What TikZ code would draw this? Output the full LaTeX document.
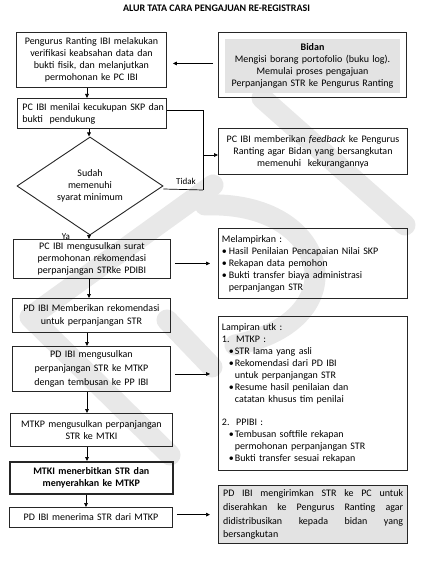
\documentclass[tikz,border=0pt]{standalone}
\usepackage{fontspec}
\setmainfont{Carlito}
\usetikzlibrary{shapes.geometric,arrows.meta,calc}
\begin{document}
\begin{tikzpicture}[x=1pt,y=-1pt,
  txt/.style={font=\fontsize{10}{12}\selectfont},
  box/.style={txt,draw=black!85,line width=0.9pt,inner xsep=4pt,inner ysep=2pt,align=center,anchor=north west},
  lbox/.style={box,align=left},
  arr/.style={line width=0.7pt,-{Triangle[length=4pt,width=3.6pt]}},
  ln/.style={line width=0.7pt},
  wm/.style={draw=black!9,line width=21pt,line cap=round,line join=round},
  lbl/.style={font=\fontsize{9}{10}\selectfont,inner sep=0pt}]
\useasboundingbox (0,0) rectangle (427,561);
\fill[white] (0,0) rectangle (427,561);
% watermark
\draw[wm] (262,98) -- (405,225);
\draw[wm] (213,185) -- (30,317) -- (170,455);
\draw[wm] (205,205) .. controls (330,200) and (360,320) .. (235,345);
\draw[wm] (167,320) -- (212,367);
% title
\node[font=\fontsize{10}{12}\selectfont\bfseries,inner sep=0pt] (title) at (216.5,8) {ALUR TATA CARA PENGAJUAN RE-REGISTRASI};
% left column
\node[box,minimum width=150pt,minimum height=55pt,text width=142pt] (b1) at (16,32)
  {Pengurus Ranting IBI melakukan\\verifikasi keabsahan data dan\\bukti fisik, dan melanjutkan\\permohonan ke PC IBI};
\node[lbox,minimum width=149pt,minimum height=30pt,text width=145pt,inner xsep=2pt] (b2) at (17,98)
  {\hspace*{3pt}PC IBI menilai kecukupan SKP dan\\\hspace*{3pt}bukti\ \ pendukung};
\node[diamond,draw=black!85,line width=0.9pt,minimum width=146pt,minimum height=78pt,inner sep=0pt,align=center,txt] (dia) at (90,186)
  {Sudah\\memenuhi\\syarat minimum};
\node[box,minimum width=157pt,minimum height=39pt,text width=149pt] (b3) at (13,239)
  {PC IBI mengusulkan surat\\permohonan rekomendasi\\perpanjangan STRke PDIBI};
\node[box,minimum width=158pt,minimum height=34pt,text width=150pt,font=\fontsize{10}{13}\selectfont] (b4) at (12,298)
  {PD IBI Memberikan rekomendasi\\untuk perpanjangan STR};
\node[box,minimum width=158pt,minimum height=45pt,text width=150pt,font=\fontsize{10}{14}\selectfont] (b5) at (12,346)
  {PD IBI mengusulkan\\perpanjangan STR ke MTKP\\dengan tembusan ke PP IBI};
\node[box,minimum width=162pt,minimum height=33pt,text width=154pt] (b6) at (10,413)
  {MTKP mengusulkan perpanjangan\\STR ke MTKI};
\node[box,line width=1.6pt,minimum width=163pt,minimum height=32pt,text width=155pt,font=\fontsize{10}{12}\selectfont\bfseries] (b7) at (9,461)
  {MTKI menerbitkan STR dan\\menyerahkan ke MTKP};
\node[box,minimum width=163pt,minimum height=20pt,text width=155pt] (b8) at (9,507)
  {PD IBI menerima STR dari MTKP};
% right column
\node[draw=black!85,line width=0.9pt,minimum width=188pt,minimum height=65pt,anchor=north west] (bidan) at (218,32) {};
\node[txt,fill=black!11,minimum width=175pt,minimum height=54pt,text width=170pt,inner xsep=2.5pt,align=center] (bidanin) at (312.5,66)
  {\textbf{Bidan}\\Mengisi borang portofolio (buku log).\\Memulai proses pengajuan\\Perpanjangan STR ke Pengurus Ranting};
\node[box,minimum width=189pt,minimum height=46pt,text width=181pt] (fb) at (218,128)
  {PC IBI memberikan \textit{feedback} ke Pengurus\\Ranting agar Bidan yang bersangkutan\\memenuhi\ \ kekurangannya};
\node[lbox,minimum width=189pt,minimum height=70pt,text width=182pt,inner xsep=3.5pt] (mel) at (218,228)
  {Melampirkan :\\
   \makebox[7pt][l]{\textbullet}Hasil Penilaian Pencapaian Nilai SKP\\
   \makebox[7pt][l]{\textbullet}Rekapan data pemohon\\
   \makebox[7pt][l]{\textbullet}Bukti transfer biaya administrasi\\
   \hspace*{7pt}perpanjangan STR};
\node[lbox,minimum width=189pt,minimum height=154pt,text width=182pt,inner xsep=3.5pt] (lamp) at (218,316)
  {Lampiran utk :\\
   1.\ \ MTKP :\\
   \hspace*{7pt}\makebox[6pt][l]{\textbullet}STR lama yang asli\\
   \hspace*{7pt}\makebox[6pt][l]{\textbullet}Rekomendasi dari PD IBI\\
   \hspace*{13pt}untuk perpanjangan STR\\
   \hspace*{7pt}\makebox[6pt][l]{\textbullet}Resume hasil penilaian dan\\
   \hspace*{13pt}catatan khusus tim penilai\\[11pt]
   2.\ \ PPIBI :\\
   \hspace*{7pt}\makebox[6pt][l]{\textbullet}Tembusan softfile rekapan\\
   \hspace*{13pt}permohonan perpanjangan STR\\
   \hspace*{7pt}\makebox[6pt][l]{\textbullet}Bukti transfer sesuai rekapan};
\node[box,line width=1.2pt,fill=black!11,minimum width=189pt,minimum height=58pt,text width=180pt,inner xsep=4.5pt,align=justify,font=\fontsize{10}{13.7}\selectfont] (fin) at (218,485)
  {PD IBI mengirimkan STR ke PC untuk\linebreak diserahkan ke Pengurus Ranting agar\linebreak didistribusikan kepada bidan yang\linebreak bersangkutan};
% labels
\node[lbl] (tidak) at (186,181) {Tidak};
\node[lbl] (ya) at (66,236.5) {Ya};
% connectors
\coordinate (tx) at (203,190);
\coordinate (tb) at (203,155);
\draw[arr] ($(bidan.west)+(-5,-1.5)$) -- ($(b1.east)+(6,3.5)$);
\draw[arr] (b1.south -| 87,0) -- (b2.north -| 87,0);
\draw[arr] (b2.south -| 89,0) -- (dia.north -| 89,0);
\draw[ln] ([yshift=3pt]b2.east) -| (tx);
\draw[ln] ($(dia.east)+(0,3)$) -- (tx);
\draw[arr] (tb) -- (fb.west |- tb);
\draw[arr] (dia.south -| 89,0) -- (b3.north -| 89,0);
\draw[arr] ($(b3.east |- mel.west)+(4,0)$) -- ($(mel.west)+(-8,0)$);
\draw[arr] (b3.south -| 89,0) -- (b4.north -| 89,0);
\draw[arr] (b4.south -| 87,0) -- (b5.north -| 87,0);
\draw[arr] ($(b5.east)+(4,5)$) -- ($(mel.west |- b5.east)+(-8,5)$);
\draw[arr] (b5.south -| 87,0) -- (b6.north -| 87,0);
\draw[arr] (b6.south -| 87,0) -- (b7.north -| 87,0);
\draw[arr] (b7.south -| 86,0) -- (b8.north -| 86,0);
\draw[arr] ($(b8.east |- fin.west)+(4,0)$) -- ($(fin.west)+(-8,0)$);
\end{tikzpicture}
\end{document}
